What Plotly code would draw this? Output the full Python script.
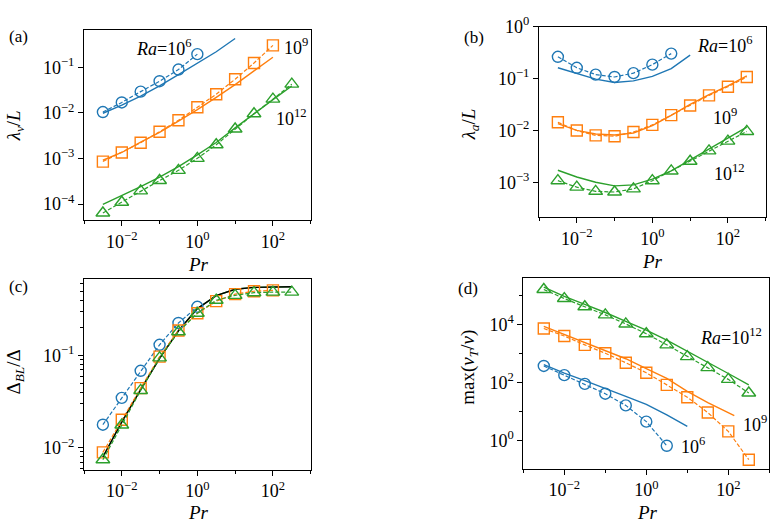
import plotly.graph_objects as go

W, H = 777, 525

# ---------------- data ----------------
PR = [0.00316, 0.01, 0.0316, 0.1, 0.316, 1, 3.16, 10, 31.6, 100, 316]

# (a) lambda_nu / L
a_ra6_dns = [0.0104, 0.0169, 0.0292, 0.0494, 0.0891, 0.194]
a_ra6_mod = [0.0098, 0.0148, 0.0234, 0.0389, 0.0692, 0.124, 0.219, 0.427]
a_ra9_dns = [0.000853, 0.00135, 0.00221, 0.00386, 0.00687, 0.01324, 0.02564, 0.0546, 0.124, 0.302]
a_ra9_mod = [0.000912, 0.00135, 0.00229, 0.00372, 0.00661, 0.01175, 0.0219, 0.0417, 0.0832, 0.166]
a_ra12_dns = [6.35e-5, 1.094e-4, 1.945e-4, 3.28e-4, 5.48e-4, 1.005e-3, 2.0e-3, 4.42e-3, 9.57e-3, 0.02, 0.0427]
a_ra12_mod = [9.77e-5, 1.51e-4, 2.4e-4, 3.89e-4, 6.61e-4, 1.2e-3, 2.24e-3, 4.68e-3, 9.77e-3, 0.0195, 0.0389]

# (b) lambda_a / L
b_ra6_dns = [0.262, 0.161, 0.119, 0.107, 0.127, 0.185, 0.302]
b_ra6_mod = [0.161, 0.124, 0.097, 0.084, 0.090, 0.110, 0.155, 0.282]
b_ra9_dns = [0.0143, 0.00995, 0.00802, 0.00769, 0.00929, 0.01274, 0.01963, 0.0302, 0.0472, 0.0695, 0.107]
b_ra9_mod = [0.0135, 0.0100, 0.00851, 0.00813, 0.00891, 0.0123, 0.0195, 0.0316, 0.049, 0.0724, 0.112]
b_ra12_dns = [1.07e-3, 8.02e-4, 6.67e-4, 6.47e-4, 7.45e-4, 1.07e-3, 1.65e-3, 2.54e-3, 4.02e-3, 6.19e-3, 9.53e-3]
b_ra12_mod = [1.7e-3, 1.26e-3, 1.0e-3, 8.5e-4, 8.9e-4, 1.15e-3, 1.66e-3, 2.69e-3, 4.37e-3, 6.92e-3, 0.0115]

# (c) Delta_BL / Delta
c_ra6_dns = [0.0178, 0.0348, 0.0684, 0.131, 0.226, 0.339]
c_ra9_dns = [0.00891, 0.0201, 0.0444, 0.0975, 0.1875, 0.288, 0.39, 0.465, 0.50, 0.51]
c_ra12_dns = [0.00741, 0.01766, 0.0419, 0.0946, 0.1816, 0.288, 0.399, 0.451, 0.482, 0.489, 0.489]
c_mod = [0.00794, 0.0191, 0.0427, 0.0933, 0.186, 0.324, 0.447, 0.525, 0.55, 0.558, 0.558]

# (d) max(nu_T / nu)
d_ra6_dns = [372, 179, 89.1, 40.8, 16.1, 4.42, 0.647]
d_ra6_mod = [417, 209, 115, 63.1, 33.1, 17.4, 7.59, 3.02]
d_ra9_dns = [7328, 4027, 2000, 1023, 481, 216, 82.4, 30.9, 9.1, 2.03, 0.213]
d_ra9_mod_pr = [0.00316, 0.01, 0.0316, 0.1, 0.316, 1, 3.16, 10, 31.6, 140]
d_ra9_mod = [8710, 4571, 2399, 1259, 661, 302, 138, 49, 20, 7.1]
d_ra12_dns = [164400, 79800, 41500, 21800, 10570, 4853, 2000, 785, 327, 128, 43.2]
d_ra12_mod = [196800, 95500, 50100, 26300, 12900, 6460, 2884, 1202, 513, 204, 83.2]

BLUE, ORANGE, GREEN = "#1f77b4", "#ff7f0e", "#2ca02c"
FONT = "Liberation Serif, DejaVu Serif, serif"

fig = go.Figure()


def add_model(x, y, color, ax):
    fig.add_trace(go.Scatter(x=x, y=y, mode="lines", line=dict(color=color, width=1.4),
                             xaxis="x" + ax, yaxis="y" + ax, showlegend=False, hoverinfo="skip"))


def add_dns(x, y, color, symbol, ax, size):
    fig.add_trace(go.Scatter(x=x, y=y, mode="lines+markers",
                             line=dict(color=color, width=1.2, dash="4px,2px"),
                             marker=dict(symbol=symbol, size=size, color=color,
                                         line=dict(color=color, width=1.4)),
                             xaxis="x" + ax, yaxis="y" + ax, showlegend=False, hoverinfo="skip"))


CIRC, SQ, TRI = ("circle-open", 11), ("square-open", 11), ("triangle-up-open", 12)

# panel a
add_model(PR[:8], a_ra6_mod, BLUE, "")
add_model(PR[:10], a_ra9_mod, ORANGE, "")
add_model(PR, a_ra12_mod, GREEN, "")
add_dns(PR[:6], a_ra6_dns, BLUE, *CIRC[:1], "", CIRC[1])
add_dns(PR[:10], a_ra9_dns, ORANGE, SQ[0], "", SQ[1])
add_dns(PR, a_ra12_dns, GREEN, TRI[0], "", TRI[1])
# panel b
add_model(PR[:8], b_ra6_mod, BLUE, "2")
add_model(PR, b_ra9_mod, ORANGE, "2")
add_model(PR, b_ra12_mod, GREEN, "2")
add_dns(PR[:7], b_ra6_dns, BLUE, CIRC[0], "2", CIRC[1])
add_dns(PR, b_ra9_dns, ORANGE, SQ[0], "2", SQ[1])
add_dns(PR, b_ra12_dns, GREEN, TRI[0], "2", TRI[1])
# panel c
add_model(PR, c_mod, GREEN, "3")
add_model(PR, c_mod, "black", "3")
add_dns(PR[:6], c_ra6_dns, BLUE, CIRC[0], "3", CIRC[1])
add_dns(PR[:10], c_ra9_dns, ORANGE, SQ[0], "3", SQ[1])
add_dns(PR, c_ra12_dns, GREEN, TRI[0], "3", TRI[1])
# panel d
add_model(PR[:8], d_ra6_mod, BLUE, "4")
add_model(d_ra9_mod_pr, d_ra9_mod, ORANGE, "4")
add_model(PR, d_ra12_mod, GREEN, "4")
add_dns(PR[:7], d_ra6_dns, BLUE, CIRC[0], "4", CIRC[1])
add_dns(PR, d_ra9_dns, ORANGE, SQ[0], "4", SQ[1])
add_dns(PR, d_ra12_dns, GREEN, TRI[0], "4", TRI[1])


def sup(e):
    return "10<sup>" + str(e).replace("-", "\u2212") + "</sup>"


def xax(x0, x1, anchor):
    return dict(type="log", range=[-3, 3], domain=[x0 / W, x1 / W], anchor=anchor,
                tickvals=[1e-2, 1, 1e2], ticktext=[sup(-2), sup(0), sup(2)],
                ticks="outside", ticklen=5, tickwidth=1, tickcolor="black",
                minor=dict(tickvals=[1e-3, 1e-1, 10, 1e3], ticks="outside", ticklen=3,
                           tickwidth=1, tickcolor="black"),
                showline=True, linecolor="black", linewidth=1, mirror=True,
                showgrid=False, zeroline=False,
                tickfont=dict(family=FONT, size=18, color="black"))


def yax(y0, y1, anchor, rng, exps, minor=None):
    d = dict(type="log", range=rng, domain=[1 - y1 / H, 1 - y0 / H], anchor=anchor,
             tickvals=[10.0 ** e for e in exps], ticktext=[sup(e) for e in exps],
             ticks="outside", ticklen=5, tickwidth=1, tickcolor="black",
             showline=True, linecolor="black", linewidth=1, mirror=True,
             showgrid=False, zeroline=False,
             tickfont=dict(family=FONT, size=18, color="black"))
    if minor:
        d["minor"] = dict(tickvals=minor, ticks="outside", ticklen=3, tickwidth=1,
                          tickcolor="black")
    return d


c_minor = [k * 1e-3 for k in (6, 7, 8, 9)] + [k * 1e-2 for k in range(2, 10)] + \
          [k * 1e-1 for k in range(2, 7)]

fig.update_layout(
    width=W, height=H, margin=dict(l=0, r=0, t=0, b=0),
    paper_bgcolor="white", plot_bgcolor="white", showlegend=False,
    font=dict(family=FONT, size=18, color="black"),
    xaxis=xax(84, 310.7, "y"),
    yaxis=yax(18.3, 213.3, "x", [-4.36, -0.18], [-4, -3, -2, -1]),
    xaxis2=xax(539, 765.7, "y2"),
    yaxis2=yax(15, 210, "x2", [-3.675, 0], [-3, -2, -1, 0]),
    xaxis3=xax(84, 310.7, "y3"),
    yaxis3=yax(273.3, 468.3, "x3", [-2.237, -0.169], [-2, -1], c_minor),
    xaxis4=xax(523.3, 769.3, "y4"),
    yaxis4=yax(272.3, 467.3, "x4", [-0.98, 5.61], [0, 2, 4], [10, 1e3, 1e5]),
)


def ann(x, y, text, size=18, angle=0):
    fig.add_annotation(x=x / W, y=1 - y / H, xref="paper", yref="paper", text=text,
                       showarrow=False, textangle=angle, xanchor="center", yanchor="middle",
                       font=dict(family=FONT, size=size, color="black"))


# panel letters
ann(18, 25, "(a)", 17)
ann(474, 26, "(b)", 17)
ann(18, 281, "(c)", 17)
ann(468, 283, "(d)", 17)

# axis titles
ann(15, 117, "<i>λ<sub>ν</sub></i>/<i>L</i>", 19, -90)
ann(470, 115, "<i>λ<sub>a</sub></i>/<i>L</i>", 19, -90)
ann(15, 369, "Δ<sub><i>BL</i></sub>/Δ", 19, -90)
ann(469, 364, "max(<i>ν<sub>T</sub></i>/<i>ν</i>)", 19, -90)
ann(198, 258, "<i>Pr</i>", 19)
ann(652, 255, "<i>Pr</i>", 19)
ann(198, 512, "<i>Pr</i>", 19)
ann(647, 512, "<i>Pr</i>", 19)

# curve labels
ann(163, 36, "<i>Ra</i>=10<sup>6</sup>")
ann(296, 35, "10<sup>9</sup>")
ann(291, 108, "10<sup>12</sup>")
ann(724, 33, "<i>Ra</i>=10<sup>6</sup>")
ann(725, 107, "10<sup>9</sup>")
ann(729, 164, "10<sup>12</sup>")
ann(731, 332, "<i>Ra</i>=10<sup>12</sup>")
ann(755, 421, "10<sup>9</sup>")
ann(693, 444, "10<sup>6</sup>")

fig.write_html("out.html")
